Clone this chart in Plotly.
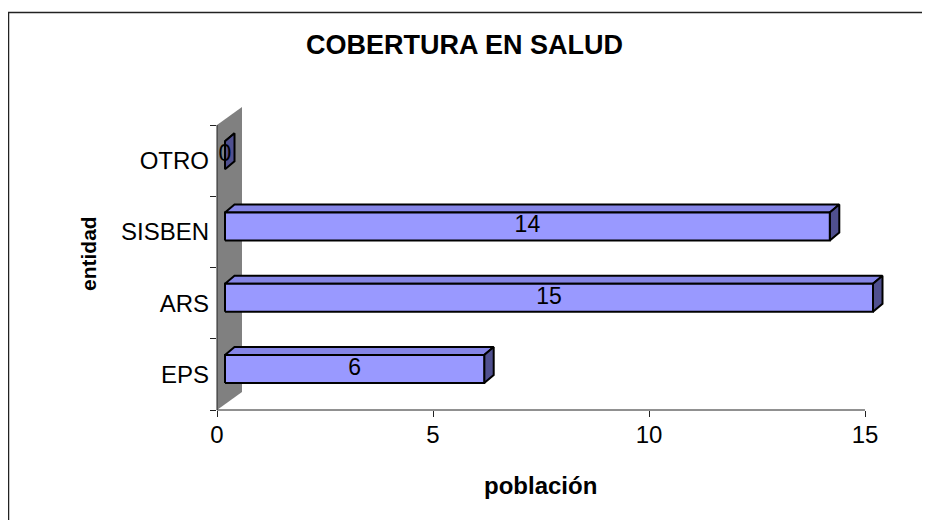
import plotly.graph_objects as go

# ---------------- data ----------------
categories = ["EPS", "ARS", "SISBEN", "OTRO"]
values = [6, 15, 14, 0]
x_tick_values = [0, 5, 10, 15]
x_tick_labels = ["0", "5", "10", "15"]
title_text = "COBERTURA EN SALUD"
x_title = "población"
y_title = "entidad"

# ---------------- geometry / style ----------------
OFF = 8                       # page body margin in the browser
W, H = 930 - OFF, 520 - OFF   # figure size so it fits the window
# screen-space plot box
SX0, SX1, SY0, SY1 = 217, 925, 90, 410
L, R, T, B = SX0 - OFF, W - (SX1 - OFF), SY0 - OFF, H - (SY1 - OFF)
PX_X = 43.2      # pixels per unit on value axis
PX_Y = 71.25     # pixels per category
plot_w = W - L - R
plot_h = H - T - B
x_max = plot_w / PX_X
y_min = -0.5
y_max = y_min + plot_h / PX_Y

FRONT_DX, FRONT_DY = 8 / PX_X, 5.3 / PX_Y
BACK_DX, BACK_DY = 17.5 / PX_X, 13.3 / PX_Y
WALL_DX, WALL_DY = 25 / PX_X, 18 / PX_Y
HALF = 14 / PX_Y

FONT = "Liberation Sans, Arial, sans-serif"
FRONT_COL = "#9999FF"
TOP_COL = "#8585E6"
END_COL = "#50508F"
WALL_COL = "#808080"
EDGE = dict(color="black", width=2)

n = len(categories)
fig = go.Figure()

# back wall
fig.add_trace(go.Scatter(
    x=[0, 0, WALL_DX, WALL_DX, 0],
    y=[y_min, y_min + n, y_min + n + WALL_DY, y_min + WALL_DY, y_min],
    fill="toself", fillcolor=WALL_COL, mode="lines",
    line=dict(width=0, color=WALL_COL), hoverinfo="skip"))

# 3D bars
for i, v in enumerate(values):
    yb_f = i + FRONT_DY - HALF
    yt_f = i + FRONT_DY + HALF
    yb_b = i + BACK_DY - HALF
    yt_b = i + BACK_DY + HALF
    xf0, xf1 = FRONT_DX, FRONT_DX + v
    xb0, xb1 = BACK_DX, BACK_DX + v
    # top face
    fig.add_trace(go.Scatter(
        x=[xf0, xf1, xb1, xb0, xf0], y=[yt_f, yt_f, yt_b, yt_b, yt_f],
        fill="toself", fillcolor=TOP_COL, mode="lines", line=EDGE, hoverinfo="skip"))
    # end face
    fig.add_trace(go.Scatter(
        x=[xf1, xf1, xb1, xb1, xf1], y=[yb_f, yt_f, yt_b, yb_b, yb_f],
        fill="toself", fillcolor=END_COL, mode="lines", line=EDGE, hoverinfo="skip"))
    # front face
    fig.add_trace(go.Scatter(
        x=[xf0, xf1, xf1, xf0, xf0], y=[yb_f, yb_f, yt_f, yt_f, yb_f],
        fill="toself", fillcolor=FRONT_COL, mode="lines", line=EDGE, hoverinfo="skip"))

# data labels
fig.add_trace(go.Scatter(
    x=[FRONT_DX + v / 2 for v in values],
    y=[i + FRONT_DY for i in range(n)],
    text=[str(v) for v in values], mode="text",
    textfont=dict(family=FONT, size=23, color="black"),
    textposition="middle center", hoverinfo="skip", cliponaxis=False))


def px_to_paper_x(px):
    return (px - OFF - L) / plot_w


def px_to_paper_y(py):
    return (H - B - (py - OFF)) / plot_h


fig.update_layout(
    width=W, height=H,
    margin=dict(l=L, r=R, t=T, b=B, pad=0),
    paper_bgcolor="white", plot_bgcolor="white",
    showlegend=False,
    font=dict(family=FONT, size=24, color="black"),
    xaxis=dict(range=[0, x_max], tickmode="array", tickvals=x_tick_values,
               ticktext=x_tick_labels, ticks="outside", ticklen=6, tickcolor="#222",
               ticklabelstandoff=-3,
               showgrid=False, zeroline=False, showline=False, fixedrange=True,
               tickfont=dict(family=FONT, size=24, color="black")),
    yaxis=dict(range=[y_min, y_max], tickmode="array", tickvals=list(range(n)),
               ticktext=categories, ticks="", showgrid=False, zeroline=False,
               showline=False, fixedrange=True, ticklabelstandoff=7,
               tickfont=dict(family=FONT, size=24, color="black"),
               minor=dict(tickmode="array",
                          tickvals=[k - 0.5 for k in range(n + 1)],
                          ticks="outside", ticklen=6, tickcolor="#222",
                          showgrid=False)),
    shapes=[
        dict(type="line", xref="x", yref="paper", x0=0, x1=x_tick_values[-1],
             y0=0, y1=0, line=dict(color="#222", width=1)),
        dict(type="line", xref="paper", yref="y", x0=0, x1=0,
             y0=y_min, y1=y_min + n, line=dict(color="#222", width=1)),
        dict(type="rect", xref="paper", yref="paper",
             x0=px_to_paper_x(8.5), x1=px_to_paper_x(950),
             y0=px_to_paper_y(540), y1=px_to_paper_y(12.5),
             line=dict(color="#222", width=1.5), fillcolor="rgba(0,0,0,0)"),
    ],
    annotations=[
        dict(text="<b>" + title_text + "</b>", xref="paper", yref="paper",
             x=px_to_paper_x(464), y=px_to_paper_y(45), showarrow=False,
             xanchor="center", yanchor="middle",
             font=dict(family=FONT, size=27, color="black")),
        dict(text="<b>" + x_title + "</b>", xref="paper", yref="paper",
             x=px_to_paper_x(540), y=px_to_paper_y(485), showarrow=False,
             xanchor="center", yanchor="middle",
             font=dict(family=FONT, size=24, color="black")),
        dict(text="<b>" + y_title + "</b>", xref="paper", yref="paper",
             x=px_to_paper_x(88), y=px_to_paper_y(254), showarrow=False,
             xanchor="center", yanchor="middle", textangle=-90,
             font=dict(family=FONT, size=21, color="black")),
    ],
)

fig.write_html("out.html")
